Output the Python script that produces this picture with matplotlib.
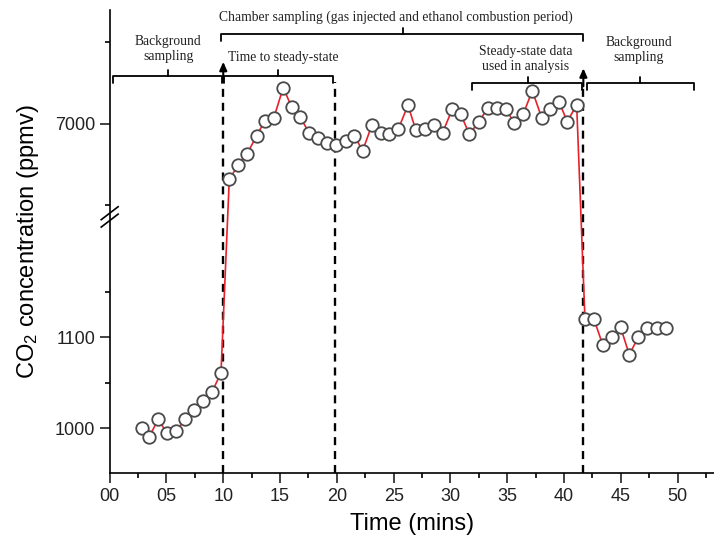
import numpy as np
import matplotlib
matplotlib.use("Agg")
import matplotlib.pyplot as plt
import matplotlib.transforms as mtransforms
from matplotlib.ticker import FixedLocator

plt.rcParams['font.family'] = ['Liberation Sans', 'DejaVu Sans']
plt.rcParams['mathtext.default'] = 'regular'

# Sampling times (mins) and CO2 readings (ppmv)
time_min = [2.82, 3.49, 4.28, 5.02, 5.84, 6.63, 7.42, 8.19, 9.01, 9.80,
            10.53, 11.32, 12.11, 12.94, 13.67, 14.46, 15.28, 16.02, 16.78, 17.54,
            18.36, 19.15, 19.92, 20.77, 21.53, 22.27, 23.09, 23.86, 24.61, 25.40,
            26.26, 26.96, 27.76, 28.55, 29.31, 30.16, 30.90, 31.66, 32.51, 33.27,
            34.07, 34.86, 35.62, 36.41, 37.20, 38.03, 38.76, 39.55, 40.28, 41.11,
            41.84, 42.63, 43.40, 44.19, 44.98, 45.74, 46.53, 47.32, 48.15, 48.94]
co2_ppmv = [1000, 991, 1010, 995, 997, 1010, 1020, 1030, 1040, 1061,
            6661, 6748, 6818, 6928, 7020, 7039, 7223, 7102, 7041, 6947,
            6916, 6885, 6871, 6896, 6928, 6836, 6994, 6947, 6937, 6967,
            7115, 6960, 6967, 6994, 6947, 7090, 7060, 6937, 7014, 7096,
            7096, 7090, 7008, 7060, 7204, 7039, 7090, 7137, 7014, 7117,
            1120, 1120, 1092, 1100, 1111, 1081, 1100, 1110, 1110, 1110]

x_ticks = [0, 5, 10, 15, 20, 25, 30, 35, 40, 45, 50]
x_ticklabels = ["00", "05", "10", "15", "20", "25", "30", "35", "40", "45", "50"]
y_ticks = [1000, 1100, 7000]
y_minor = [1050, 1150, 6500, 7500]

# broken y axis: two linear pieces glued together
BREAK_V = [-1e5, 1231.0, 6429.0, 1e5]
BREAK_H = [44.7 + (-1e5 - 1000) * 0.91, 255.0, 256.0, 349 + (1e5 - 7000) * 0.163]


def fwd(v):
    return np.interp(v, BREAK_V, BREAK_H)


def inv(h):
    return np.interp(h, BREAK_H, BREAK_V)


fig = plt.figure(figsize=(7.14, 5.48), dpi=100)
ax = fig.add_axes([0.1536, 0.1369, 0.8464, 0.845])
ax.set_yscale('function', functions=(fwd, inv))
ax.set_xlim(0, 53.2)
ax.set_ylim(951, 7699)

ax.plot(time_min, co2_ppmv, color='#e8202a', lw=1.2, marker='o', ms=9,
        mfc='white', mec='#4a4a4a', mew=1.3, zorder=3)

# axes styling
for s in ['top', 'right']:
    ax.spines[s].set_visible(False)
for s in ['left', 'bottom']:
    ax.spines[s].set_linewidth(1.2)
ax.set_xticks(x_ticks)
ax.set_xticklabels(x_ticklabels)
ax.xaxis.set_minor_locator(FixedLocator(np.arange(2.5, 53, 5)))
ax.yaxis.set_major_locator(FixedLocator(y_ticks))
ax.yaxis.set_minor_locator(FixedLocator(y_minor))
ax.set_yticklabels([str(v) for v in y_ticks])
ax.tick_params(which='major', direction='out', length=7, width=1.2, labelsize=13, colors='#222222')
ax.tick_params(which='minor', direction='out', length=3.5, width=1.2)
ax.set_xlabel("Time (mins)", fontsize=17, labelpad=6)
ax.set_ylabel("CO$_2$ concentration (ppmv)", fontsize=17, labelpad=10)

# break marks on the y spine
yb = 0.553
for dy in (-0.008, 0.008):
    ax.plot([-0.014, 0.014], [yb + dy - 0.014, yb + dy + 0.014], color='k', lw=1.2,
            transform=ax.transAxes, clip_on=False, zorder=5)

trans = mtransforms.blended_transform_factory(ax.transData, ax.transAxes)

# dashed period markers
dash = (0, (3.4, 2.5))
ax.axvline(10, ymax=0.857, color='k', lw=1.7, ls=dash, zorder=2)
ax.axvline(19.8, ymax=0.845, color='k', lw=1.7, ls=dash, zorder=2)
ax.axvline(41.7, ymax=0.842, color='k', lw=1.7, ls=dash, zorder=2)
for xa, y0, y1 in [(10, 0.85, 0.888), (41.7, 0.835, 0.874)]:
    ax.annotate('', xy=(xa, y1), xytext=(xa, y0), xycoords=trans, textcoords=trans,
                arrowprops=dict(arrowstyle='-|>,head_length=0.5,head_width=0.22',
                                color='k', lw=1.5, shrinkA=0, shrinkB=0))


def bracket(x0, x1, xm, y, down=0.015, up=0.014):
    kw = dict(color='k', lw=1.3, transform=trans, clip_on=False, solid_capstyle='round')
    ax.plot([x0, x0, x1, x1], [y - down, y, y, y - down], **kw)
    ax.plot([xm, xm], [y, y + up], **kw)


bracket(9.77, 41.7, 25.8, 0.948)
bracket(0.3, 9.9, 5.15, 0.857)
bracket(10.05, 19.7, 14.8, 0.857)
bracket(31.9, 41.6, 36.8, 0.842)
bracket(42.0, 51.4, 46.7, 0.842)

tkw = dict(transform=trans, ha='center', va='center', fontsize=9.8,
           family=['Liberation Serif', 'DejaVu Serif'], color='#222222')
ax.text(25.2, 0.985, "Chamber sampling (gas injected and ethanol combustion period)", **tkw)
ax.text(5.15, 0.916, "Background\nsampling", **tkw)
ax.text(15.25, 0.898, "Time to steady-state", **tkw)
ax.text(36.6, 0.895, "Steady-state data\nused in analysis", **tkw)
ax.text(46.6, 0.914, "Background\nsampling", **tkw)

fig.savefig("out.png", dpi=100)
